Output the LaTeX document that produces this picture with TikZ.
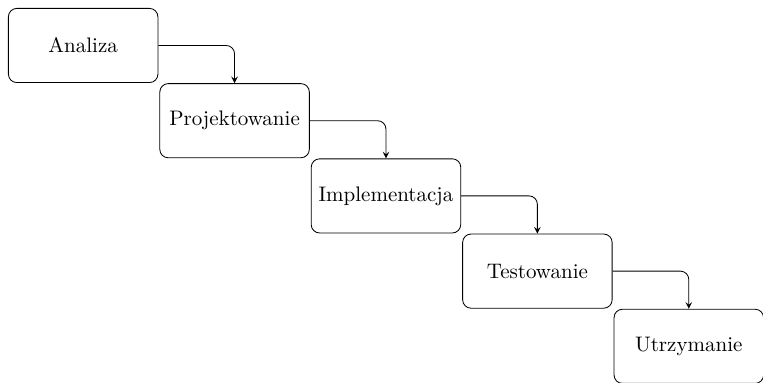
\documentclass[tikz,border=0pt]{standalone}
\usepackage{tikz}
\usetikzlibrary{arrows,positioning}

\begin{document}
\begin{tikzpicture}[
    stagebox/.style={draw, rectangle, rounded corners, minimum width=2.5cm, minimum height=1.24cm, align=center},
    arrow/.style={-stealth, rounded corners},
    node distance=0.1pt and 0.5pt
]

\useasboundingbox (-3.8pt,3.8pt) rectangle (359.2pt,-178.1pt);

% --- Stages ---
\node[stagebox, anchor=north west] (analiza) at (0,0) {Analiza};
\node[stagebox, below right=of analiza.south east] (projekt) {Projektowanie};
\node[stagebox, below right=of projekt.south east] (impl) {Implementacja};
\node[stagebox, below right=of impl.south east] (test) {Testowanie};
\node[stagebox, below right=of test.south east] (utrzym) {Utrzymanie};

% --- Arrows ---
\draw[arrow] (analiza.east) -| (projekt.north);
\draw[arrow] (projekt.east) -| (impl.north);
\draw[arrow] (impl.east) -| (test.north);
\draw[arrow] (test.east) -| (utrzym.north);

\end{tikzpicture}
\end{document}
